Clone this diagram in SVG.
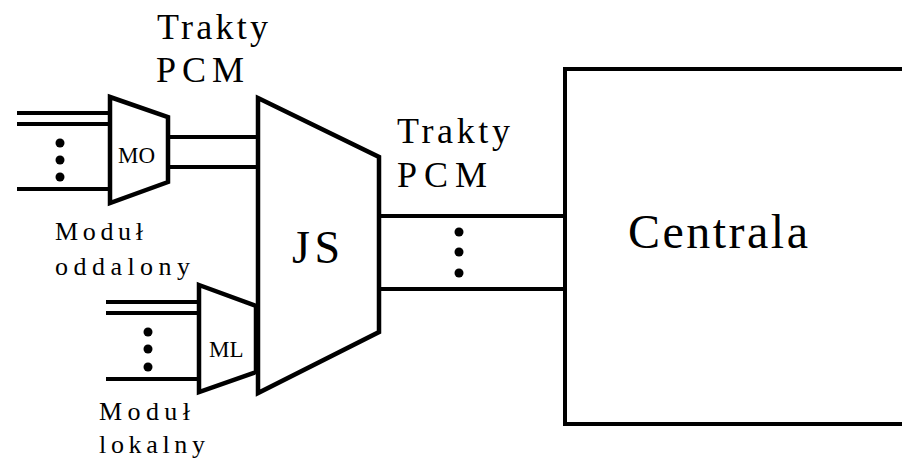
<svg xmlns="http://www.w3.org/2000/svg" width="902" height="463" viewBox="0 0 902 463">
  <style>
    .ln { stroke: #000; stroke-width: 4; fill: none; }
    .blk { stroke: #000; stroke-width: 4.5; fill: #fff; stroke-linejoin: miter; }
    .dot { fill: #000; }
    text { font-family: "Liberation Serif", "Times New Roman", serif; fill: #000; }
    .lbl { font-size: 36px; }
    .cap { font-size: 26px; }
    .sm { font-size: 23px; }
  </style>

  <!-- connectors: trunk lines between blocks -->
  <g id="connectors">
    <!-- inputs of the remote module -->
    <line class="ln" x1="17" y1="113" x2="110" y2="113"/>
    <line class="ln" x1="17" y1="124" x2="110" y2="124"/>
    <line class="ln" x1="17" y1="189" x2="110" y2="189"/>
    <circle class="dot" cx="60" cy="143" r="4.5"/>
    <circle class="dot" cx="60" cy="160" r="4.5"/>
    <circle class="dot" cx="60" cy="177" r="4.5"/>
    <!-- remote module to JS -->
    <line class="ln" x1="168" y1="137" x2="258" y2="137"/>
    <line class="ln" x1="168" y1="167" x2="258" y2="167"/>
    <!-- inputs of the local module -->
    <line class="ln" x1="106" y1="302" x2="199" y2="302"/>
    <line class="ln" x1="106" y1="313" x2="199" y2="313"/>
    <line class="ln" x1="106" y1="379" x2="199" y2="379"/>
    <circle class="dot" cx="148" cy="332" r="4.5"/>
    <circle class="dot" cx="148" cy="349" r="4.5"/>
    <circle class="dot" cx="148" cy="367" r="4.5"/>
    <!-- JS to the exchange -->
    <line class="ln" x1="379" y1="216" x2="565" y2="216"/>
    <line class="ln" x1="379" y1="289" x2="565" y2="289"/>
    <circle class="dot" cx="459" cy="232" r="4.5"/>
    <circle class="dot" cx="459" cy="252" r="4.5"/>
    <circle class="dot" cx="459" cy="273" r="4.5"/>
  </g>

  <g id="mo">
    <polygon class="blk" points="110,97 168,117 168,182 110,203"/>
    <text class="sm" x="118" y="163">MO</text>
  </g>

  <g id="ml">
    <polygon class="blk" points="199,285 256,306 256,372 199,392"/>
    <text class="sm" x="209" y="357">ML</text>
  </g>

  <g id="js">
    <polygon class="blk" points="258,98 379,157 379,332 258,393"/>
    <text x="292" y="263" font-size="46" textLength="48" lengthAdjust="spacing">JS</text>
  </g>

  <g id="centrala">
    <path class="ln" d="M904,69 H565 V424 H904"/>
    <text x="628" y="248" font-size="48" textLength="180" lengthAdjust="spacing">Centrala</text>
  </g>

  <g id="labels">
    <text class="lbl" x="157" y="39" textLength="111" lengthAdjust="spacing">Trakty</text>
    <text class="lbl" x="156" y="82" textLength="88" lengthAdjust="spacing">PCM</text>
    <text class="lbl" x="397" y="143" textLength="113" lengthAdjust="spacing">Trakty</text>
    <text class="lbl" x="397" y="187" textLength="90" lengthAdjust="spacing">PCM</text>
    <text class="cap" x="55" y="240" textLength="88" lengthAdjust="spacing">Moduł</text>
    <text class="cap" x="55" y="275" textLength="135" lengthAdjust="spacing">oddalony</text>
    <text class="cap" x="99" y="420" textLength="91" lengthAdjust="spacing">Moduł</text>
    <text class="cap" x="99" y="453" textLength="106" lengthAdjust="spacing">lokalny</text>
  </g>
</svg>
